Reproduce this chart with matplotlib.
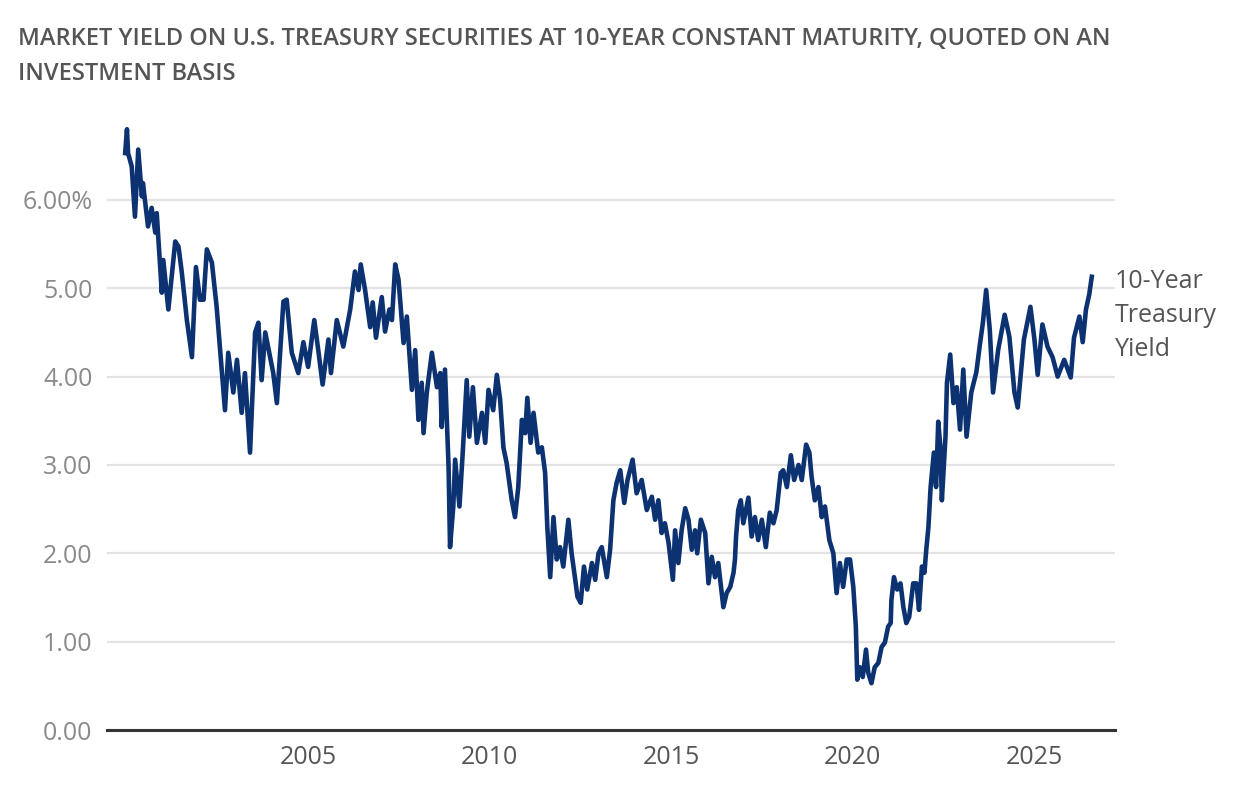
import matplotlib
matplotlib.use("Agg")
import matplotlib.pyplot as plt

plt.rcParams["font.family"] = ["Open Sans", "DejaVu Sans"]

# 10-year treasury yield (%), decimal years
years = [
    1999.96, 2000.01, 2000.04, 2000.14, 2000.23, 2000.32, 2000.42, 2000.45, 2000.59, 2000.69,
    2000.79, 2000.83, 2000.97, 2001.01, 2001.15, 2001.34, 2001.43, 2001.52, 2001.66, 2001.80,
    2001.91, 2002.02, 2002.12, 2002.21, 2002.35, 2002.48, 2002.62, 2002.71, 2002.80, 2002.94,
    2003.04, 2003.17, 2003.26, 2003.40, 2003.54, 2003.63, 2003.72, 2003.82, 2004.04, 2004.14,
    2004.32, 2004.41, 2004.55, 2004.73, 2004.87,
    2005.00, 2005.17, 2005.28, 2005.40, 2005.56, 2005.63, 2005.79, 2005.97, 2006.07, 2006.16,
    2006.29, 2006.39, 2006.45, 2006.57, 2006.71, 2006.78, 2006.87, 2007.03, 2007.12, 2007.24,
    2007.31, 2007.40, 2007.49, 2007.63, 2007.72, 2007.86, 2007.95, 2008.04, 2008.13, 2008.18,
    2008.27, 2008.41, 2008.55, 2008.64, 2008.68, 2008.77, 2008.87, 2008.91, 2009.00, 2009.05,
    2009.17, 2009.26, 2009.37, 2009.44, 2009.54, 2009.65, 2009.79, 2009.88, 2009.97,
    2010.10, 2010.20, 2010.29, 2010.38, 2010.47, 2010.61, 2010.70, 2010.79, 2010.89, 2010.98,
    2011.04, 2011.13, 2011.21, 2011.34, 2011.44, 2011.53, 2011.59, 2011.67, 2011.76, 2011.85,
    2011.94, 2012.03, 2012.17, 2012.26, 2012.36, 2012.42, 2012.51, 2012.60, 2012.69, 2012.82,
    2012.91, 2013.00, 2013.09, 2013.23, 2013.32, 2013.41, 2013.50, 2013.60, 2013.71, 2013.80,
    2013.94, 2014.05, 2014.19, 2014.33, 2014.47, 2014.56, 2014.65, 2014.74, 2014.83, 2014.93,
    2015.05, 2015.11, 2015.20, 2015.29, 2015.39, 2015.48, 2015.57, 2015.66, 2015.72, 2015.82,
    2015.94, 2016.03, 2016.12, 2016.21, 2016.30, 2016.44, 2016.53, 2016.63, 2016.72, 2016.76,
    2016.79, 2016.85, 2016.92, 2016.99, 2017.13, 2017.22, 2017.31, 2017.40, 2017.50, 2017.61,
    2017.72, 2017.82, 2017.91, 2018.02, 2018.09, 2018.19, 2018.30, 2018.39, 2018.51, 2018.60,
    2018.72, 2018.81, 2018.87, 2018.96, 2019.06, 2019.15, 2019.24, 2019.36, 2019.47, 2019.56,
    2019.65, 2019.74, 2019.84, 2019.93,
    2020.02, 2020.09, 2020.13, 2020.20, 2020.28, 2020.37, 2020.43, 2020.52, 2020.61, 2020.71,
    2020.80, 2020.89, 2020.98, 2021.05, 2021.07, 2021.14, 2021.23, 2021.32, 2021.40, 2021.48,
    2021.56, 2021.67, 2021.76, 2021.83, 2021.91, 2021.98, 2022.03, 2022.09, 2022.15, 2022.24,
    2022.30, 2022.36, 2022.42, 2022.46, 2022.56, 2022.60, 2022.69, 2022.78, 2022.87, 2022.96,
    2023.05, 2023.14, 2023.27, 2023.41, 2023.50, 2023.59, 2023.68, 2023.78, 2023.87, 2024.01,
    2024.19, 2024.32, 2024.46, 2024.55, 2024.72, 2024.90, 2025.01, 2025.10, 2025.23, 2025.37,
    2025.51, 2025.65, 2025.83, 2026.01, 2026.10, 2026.25, 2026.34, 2026.43, 2026.52, 2026.59,
]
yield_pct = [
    6.53, 6.80, 6.53, 6.38, 5.81, 6.57, 6.04, 6.19, 5.70, 5.91,
    5.63, 5.85, 4.95, 5.32, 4.76, 5.53, 5.47, 5.18, 4.64, 4.22,
    5.24, 4.87, 4.87, 5.44, 5.29, 4.79, 4.08, 3.62, 4.27, 3.82,
    4.19, 3.59, 4.04, 3.14, 4.50, 4.61, 3.96, 4.50, 4.04, 3.70,
    4.85, 4.87, 4.27, 4.04, 4.39,
    4.11, 4.64, 4.30, 3.91, 4.42, 4.04, 4.64, 4.34, 4.56, 4.76,
    5.19, 4.98, 5.27, 4.98, 4.56, 4.84, 4.44, 4.90, 4.51, 4.76,
    4.64, 5.27, 5.10, 4.38, 4.68, 3.85, 4.30, 3.51, 3.93, 3.36,
    3.82, 4.27, 3.88, 4.04, 3.43, 4.08, 2.98, 2.07, 2.53, 3.06,
    2.53, 3.14, 3.96, 3.32, 3.88, 3.25, 3.59, 3.25, 3.85,
    3.62, 4.02, 3.74, 3.20, 3.02, 2.60, 2.41, 2.75, 3.51, 3.36,
    3.76, 3.25, 3.59, 3.14, 3.20, 2.91, 2.30, 1.73, 2.41, 1.93,
    2.07, 1.85, 2.38, 2.00, 1.70, 1.51, 1.44, 1.85, 1.59, 1.89,
    1.70, 2.00, 2.07, 1.73, 2.04, 2.60, 2.80, 2.94, 2.57, 2.83,
    3.06, 2.68, 2.83, 2.49, 2.64, 2.38, 2.60, 2.23, 2.34, 2.12,
    1.70, 2.26, 1.89, 2.26, 2.51, 2.38, 2.04, 2.26, 2.00, 2.38,
    2.23, 1.66, 1.96, 1.73, 1.89, 1.39, 1.55, 1.62, 1.78, 1.93,
    2.19, 2.49, 2.60, 2.34, 2.63, 2.19, 2.41, 2.15, 2.38, 2.07,
    2.46, 2.34, 2.49, 2.91, 2.94, 2.75, 3.11, 2.83, 3.00, 2.83,
    3.23, 3.14, 2.87, 2.60, 2.75, 2.41, 2.53, 2.15, 2.00, 1.55,
    1.89, 1.62, 1.93, 1.93,
    1.62, 1.17, 0.57, 0.71, 0.60, 0.91, 0.65, 0.53, 0.71, 0.76,
    0.94, 0.99, 1.17, 1.21, 1.47, 1.73, 1.59, 1.66, 1.39, 1.21,
    1.28, 1.66, 1.66, 1.36, 1.85, 1.78, 2.04, 2.30, 2.75, 3.14,
    2.75, 3.49, 3.20, 2.60, 3.32, 3.93, 4.25, 3.70, 3.88, 3.40,
    4.08, 3.32, 3.82, 4.05, 4.34, 4.61, 4.98, 4.53, 3.82, 4.30,
    4.70, 4.45, 3.82, 3.65, 4.42, 4.79, 4.42, 4.02, 4.59, 4.34,
    4.22, 4.00, 4.19, 3.99, 4.44, 4.68, 4.39, 4.76, 4.93, 5.13,
]

y_ticks = [0, 1, 2, 3, 4, 5, 6]
y_labels = ["0.00", "1.00", "2.00", "3.00", "4.00", "5.00", "6.00%"]
x_ticks = [2005, 2010, 2015, 2020, 2025]
x_labels = ["2005", "2010", "2015", "2020", "2025"]

title = ("MARKET YIELD ON U.S. TREASURY SECURITIES AT 10-YEAR CONSTANT MATURITY, QUOTED ON AN\n"
         "INVESTMENT BASIS")
series_name = "10-Year\nTreasury\nYield"

navy = "#0c3272"

fig = plt.figure(figsize=(12.4, 7.98), dpi=100)
ax = fig.add_axes([0.0863, 0.0852, 0.8129, 0.775])

ax.plot(years, yield_pct, color=navy, linewidth=3.3, solid_joinstyle="round", zorder=3)

ax.set_xlim(1999.46, 2027.23)
ax.set_ylim(0, 7)

ax.set_yticks(y_ticks)
ax.set_yticklabels(y_labels)
ax.set_xticks(x_ticks)
ax.set_xticklabels(x_labels)
ax.tick_params(axis="y", length=0, pad=10.5, labelsize=18, labelcolor="#8a8a8a")
ax.tick_params(axis="x", length=0, pad=11, labelsize=18, labelcolor="#555555")

ax.grid(axis="y", color="#e3e3e3", linewidth=1.6)
ax.set_axisbelow(True)
for s in ["top", "right", "left"]:
    ax.spines[s].set_visible(False)
ax.spines["bottom"].set_color("#333333")
ax.spines["bottom"].set_linewidth(2.2)
ax.spines["bottom"].set_zorder(4)

# series label at the right end
ax.text(1.0, 4.69, series_name, transform=ax.get_yaxis_transform(),
        ha="left", va="center", fontsize=18, color="#555555", linespacing=1.47)

fig.text(18 / 1240, 1 - 27 / 798, title, ha="left", va="top",
         fontsize=17, fontweight="semibold", color="#555555", linespacing=1.6)

fig.savefig("out.png", dpi=100)
